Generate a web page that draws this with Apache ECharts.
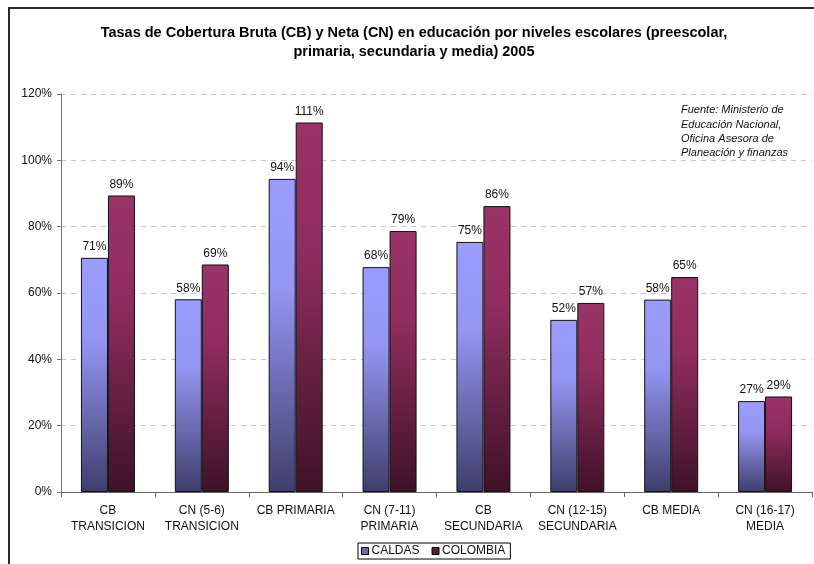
<!DOCTYPE html>
<html>
<head>
<meta charset="utf-8">
<script src="https://cdn.jsdelivr.net/npm/echarts@6/dist/echarts.min.js"></script>
<style>
html,body{margin:0;padding:0;background:#fff;}
#chart{width:814px;height:564px;}
</style>
</head>
<body>
<div id="chart"></div>
<script>
const categories = ["CB\nTRANSICION","CN (5-6)\nTRANSICION","CB PRIMARIA","CN (7-11)\nPRIMARIA","CB\nSECUNDARIA","CN (12-15)\nSECUNDARIA","CB MEDIA","CN (16-17)\nMEDIA"];
const caldas = [0.706, 0.581, 0.944, 0.678, 0.754, 0.519, 0.580, 0.274];
const colombia = [0.894, 0.686, 1.114, 0.787, 0.862, 0.570, 0.648, 0.288];
const yTicks = [0, 0.2, 0.4, 0.6, 0.8, 1.0, 1.2];
const titleLines = ["Tasas de Cobertura Bruta (CB) y Neta (CN) en educación por niveles escolares (preescolar,", "primaria, secundaria y media) 2005"];
const sourceLines = ["Fuente: Ministerio de", "Educación Nacional,", "Oficina Asesora de", "Planeación y finanzas"];

const FONT = '"Liberation Sans", Arial, sans-serif';
const chart = echarts.init(document.getElementById('chart'), null, {renderer:'canvas'});

function grad(c0, c1, c2){
  return new echarts.graphic.LinearGradient(0,0,0,1,[
    {offset:0,color:c0},{offset:0.35,color:c1},{offset:1,color:c2}
  ]);
}

const labelCfg = {
  show:true, position:'top', distance:5,
  fontFamily:FONT, fontSize:12, color:'#111',
  formatter: p => Math.round(p.value*100) + '%'
};

chart.setOption({
  animation:false,
  backgroundColor:'#fff',
  textStyle:{fontFamily:FONT},
  grid:{left:61, right:2, top:94, bottom:72, containLabel:false},
  xAxis:{
    type:'category', data:categories,
    axisLine:{lineStyle:{color:'#666', width:1}},
    axisTick:{show:true, length:5, alignWithLabel:false, lineStyle:{color:'#666'}},
    axisLabel:{fontFamily:FONT, fontSize:12, color:'#111', margin:11, lineHeight:16, interval:0}
  },
  yAxis:{
    type:'value', min:yTicks[0], max:yTicks[yTicks.length-1], interval:0.2,
    axisLine:{show:true, lineStyle:{color:'#777'}},
    axisTick:{show:true, length:4, lineStyle:{color:'#777'}},
    axisLabel:{fontFamily:FONT, fontSize:12, color:'#111', margin:9,
      formatter: v => Math.round(v*100) + '%'},
    splitLine:{show:true, lineStyle:{color:'#c4c4c4', type:[5,5], width:1}}
  },
  legend:{
    left:358, top:543,
    orient:'horizontal',
    itemWidth:7, itemHeight:7, itemGap:12,
    icon:'rect',
    borderColor:'#000', borderWidth:1,
    padding:[2,5,2,3],
    textStyle:{fontFamily:FONT, fontSize:12, color:'#111', padding:[0,0,0,-2]},
    data:[
      {name:'CALDAS', itemStyle:{color:'#6b6ba8', borderColor:'#000', borderWidth:1}},
      {name:'COLOMBIA', itemStyle:{color:'#5e1c3c', borderColor:'#000', borderWidth:1}}
    ]
  },
  series:[
    {
      name:'CALDAS', type:'bar', data:caldas,
      barWidth:27, barGap:'0%',
      itemStyle:{color:grad('#9c9cff','#9595f2','#3e3e6c'), borderColor:'#111', borderWidth:1},
      label:labelCfg
    },
    {
      name:'COLOMBIA', type:'bar', data:colombia,
      barWidth:27,
      itemStyle:{color:grad('#9a3366','#8f2d5e','#3e1226'), borderColor:'#111', borderWidth:1},
      label:labelCfg
    }
  ],
  graphic:[
    {type:'rect', shape:{x:9, y:8, width:900, height:700}, style:{fill:null, stroke:'#2a2a2a', lineWidth:2}, silent:true, z:-1},
    {type:'text', x:414, y:23, style:{text:titleLines.join('\n'), font:'bold 14.5px ' + FONT, fill:'#000', textAlign:'center', lineHeight:19}},
    {type:'text', left:681, top:103, style:{text:sourceLines.join('\n'), font:'italic 11px ' + FONT, fill:'#111', lineHeight:14.3}}
  ]
});
</script>
</body>
</html>
